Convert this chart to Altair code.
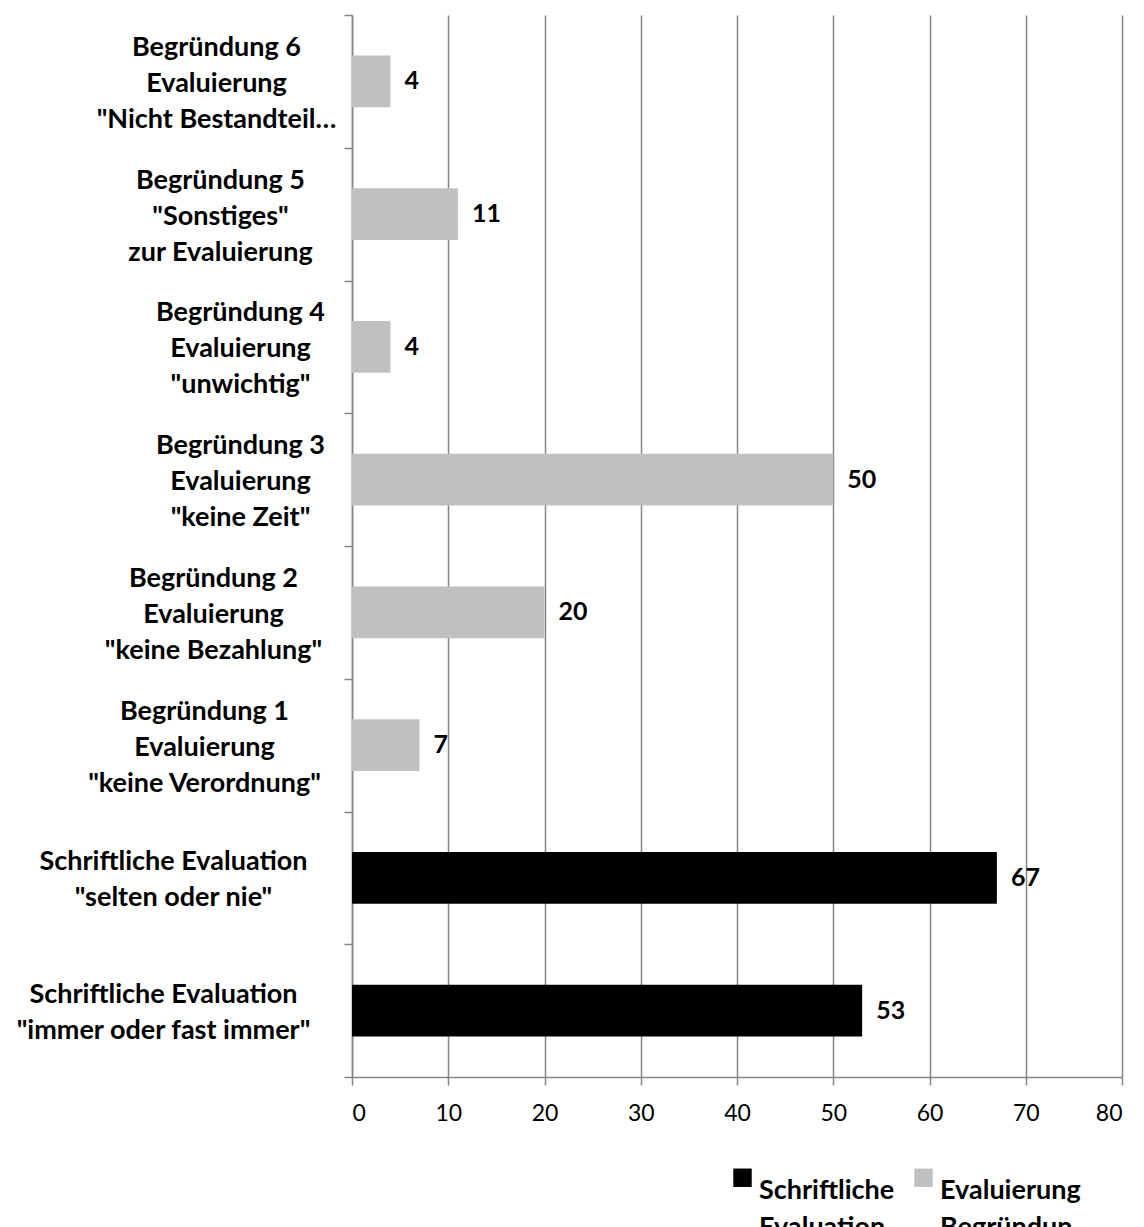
import json
import altair as alt
import pandas as pd

# ---- data ----
categories = [
    'Begründung 6\nEvaluierung\n"Nicht Bestandteil…',
    'Begründung 5\n"Sonstiges"\nzur Evaluierung',
    'Begründung 4\nEvaluierung\n"unwichtig"',
    'Begründung 3\nEvaluierung\n"keine Zeit"',
    'Begründung 2\nEvaluierung\n"keine Bezahlung"',
    'Begründung 1\nEvaluierung\n"keine Verordnung"',
    'Schriftliche Evaluation\n"selten oder nie"',
    'Schriftliche Evaluation\n"immer oder fast immer"',
]
values = [4, 11, 4, 50, 20, 7, 67, 53]
series = ["Evaluierung Begründungen"] * 6 + ["Schriftliche Evaluation"] * 2
series_order = ["Schriftliche Evaluation", "Evaluierung Begründungen"]
series_colors = ["#000000", "#c0c0c0"]
x_ticks = [0, 10, 20, 30, 40, 50, 60, 70, 80]

# styling: distance (px) of each category label's centre from the axis tick end
label_pad = [128, 124, 104, 104, 131, 140, 171, 181]

df = pd.DataFrame({"category": categories, "value": values, "series": series})

FONT = "Lato"
GRID = "#868686"
LINE_H = 36

pad_expr = "{}[indexof({}, datum.value)]".format(
    json.dumps(label_pad), json.dumps(categories, ensure_ascii=False)
)
offset_expr = "2 - (length(split(datum.value, '\\n')) - 1) * {}".format(LINE_H / 2)

y_enc = alt.Y(
    "category:N",
    sort=categories,
    scale=alt.Scale(paddingInner=0, paddingOuter=0),
    axis=alt.Axis(
        title=None,
        tickBand="extent",
        grid=False,
        domainColor=GRID,
        domainWidth=1.5,
        tickColor=GRID,
        tickWidth=1.5,
        tickSize=8,
        labelAlign="center",
        labelBaseline="middle",
        labelLineHeight=LINE_H,
        labelFont=FONT,
        labelFontSize=27,
        labelFontWeight="bold",
        labelColor="#000000",
        labelLimit=500,
        labelExpr="split(datum.label, '\\n')",
        labelPadding=alt.ExprRef(pad_expr),
        labelOffset=alt.ExprRef(offset_expr),
    ),
)

x_enc = alt.X(
    "value:Q",
    scale=alt.Scale(domain=[0, 80], nice=False),
    axis=alt.Axis(
        title=None,
        values=x_ticks,
        grid=True,
        gridColor=GRID,
        gridWidth=1.5,
        domainColor=GRID,
        domainWidth=1.5,
        tickColor=GRID,
        tickWidth=1.5,
        tickSize=8,
        labelFont=FONT,
        labelFontSize=23,
        labelColor="#000000",
        labelPadding=17,
    ),
)

bars = alt.Chart(df).mark_bar(height={"band": 0.39}).encode(
    x=x_enc,
    y=y_enc,
    color=alt.Color(
        "series:N",
        scale=alt.Scale(domain=series_order, range=series_colors),
        legend=alt.Legend(
            title=None,
            orient="none",
            legendX=377,
            legendY=1149,
            direction="horizontal",
            symbolType="square",
            symbolSize=340,
            symbolStrokeWidth=0,
            labelFont=FONT,
            labelFontSize=27,
            labelFontWeight="bold",
            labelColor="#000000",
            labelBaseline="top",
            labelOffset=3,
            labelExpr="split(datum.label, ' ')",
            columnPadding=15,
            padding=0,
        ),
    ),
)

labels = alt.Chart(df).mark_text(
    align="left", baseline="middle", dx=14, font=FONT, fontSize=25,
    fontWeight="bold", color="#000000"
).encode(
    x=alt.X("value:Q"),
    y=alt.Y("category:N", sort=categories),
    text=alt.Text("value:Q"),
)

chart = (
    alt.layer(bars, labels)
    .properties(
        width=770,
        height=1062,
        autosize=alt.AutoSizeParams(type="none"),
        padding={"left": 344, "top": 7, "right": 14, "bottom": 160},
        background="#ffffff",
    )
    .configure(
        style={"guide-label": {"lineHeight": 37}},
        view=alt.ViewConfig(stroke=None),
    )
)

chart.save("out.html", embed_options={"renderer": "svg", "actions": False})
